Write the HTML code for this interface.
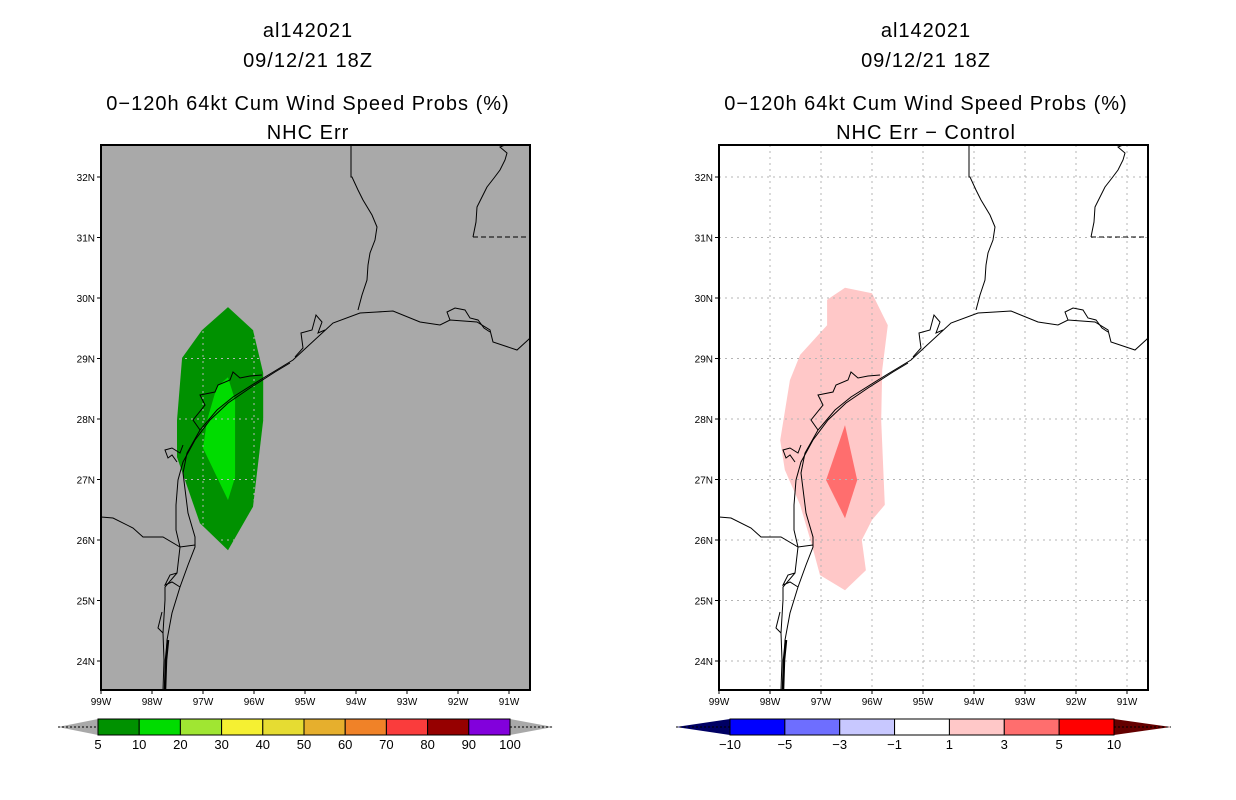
<!DOCTYPE html>
<html><head><meta charset="utf-8">
<style>
html,body{margin:0;padding:0;background:#fff;}
svg{display:block;}
text{font-family:"Liberation Sans",sans-serif;fill:#000;}
.title{font-size:20px;letter-spacing:1px;}
.tick{font-size:10px;}
.cb{font-size:13px;}
</style></head>
<body>
<svg id="chart" width="1236" height="800" viewBox="0 0 1236 800" xmlns="http://www.w3.org/2000/svg"></svg>
<script>
// ---- data ----
const lonTicks = [-99,-98,-97,-96,-95,-94,-93,-92,-91];
const latTicks = [24,25,26,27,28,29,30,31,32];
const leftLevels = ["5","10","20","30","40","50","60","70","80","90","100"];
const leftColors = ["#009100","#00dc00","#a0e632","#f5f032","#e6dc32","#e6af2d","#f08228","#fa3c3c","#960000","#8200dc"];
const rightLevels = ["\u221210","\u22125","\u22123","\u22121","1","3","5","10"];
const rightColors = ["#0000ff","#6e6eff","#c8c8ff","#ffffff","#ffc8c8","#ff6e6e","#ff0000"];
// contour polygons [lon,lat]
const prob5Lon = [-96.51,-96.02,-95.82,-95.82,-96.02,-96.51,-97.06,-97.51,-97.51,-97.41,-97.02];
const prob5Lat = [29.85,29.47,28.76,27.98,26.55,25.83,26.28,27.37,27.98,29.01,29.47];
const prob10Lon = [-96.51,-96.37,-96.37,-96.51,-97.0,-96.92,-96.73];
const prob10Lat = [28.69,28.31,27.04,26.66,27.52,27.98,28.53];
const diff1Lon = [-96.53,-96.0,-95.69,-95.80,-95.82,-95.75,-96.0,-96.20,-96.12,-96.53,-97.02,-97.18,-97.41,-97.71,-97.80,-97.61,-97.41,-96.88,-96.88];
const diff1Lat = [30.17,30.08,29.55,28.81,27.98,26.58,26.33,26.0,25.50,25.17,25.42,25.92,26.58,27.16,27.65,28.64,29.06,29.55,29.97];
const diff3Lon = [-96.53,-96.29,-96.53,-96.90];
const diff3Lat = [27.90,26.99,26.36,26.99];

// ---- geometry ----
const NS="http://www.w3.org/2000/svg";
const svg=document.getElementById('chart');
const BOX={x0:101,y0:145,x1:530,y1:690};
function xs(lon){return 101+(lon+99)*51;}
function ys(lat){return 177+(32-lat)*60.5;}
function mk(tag,attrs,parent){const e=document.createElementNS(NS,tag);for(const k in attrs)e.setAttribute(k,attrs[k]);(parent||svg).appendChild(e);return e;}
function poly(lons,lats){return lons.map((l,i)=>xs(l).toFixed(1)+","+ys(lats[i]).toFixed(1)).join(" ");}

// coastline in left-panel pixel coords (map geometry)
const coast="165,690 167,640 172,613 180,587 188,565 195,547 195,537 188,513 183,473 187,453 200,430 217,410 233,397 260,380 293,360 307,347 333,323 360,313 377,312 393,311 420,322 440,325 450,320 477,322 490,330 493,342 517,350 528,340 530,338";
const lagoon="163,690 164,660 163,633 165,600 165,587 177,573 180,547 176,530 176,505 178,480 183,462 195,440 210,420 228,403 250,388 275,372 290,363";
const bays="200,430 193,420 205,405 200,395 215,392 218,385 230,380 233,372 240,378 250,376 262,375 | 177,462 172,455 168,458 165,450 172,448 180,453 183,445 | 295,357 303,348 301,333 312,330 316,315 322,322 318,333 325,330 | 450,320 447,312 455,308 465,310 470,318 478,320 484,328 490,332 | 163,633 158,628 160,620 162,612 | 180,587 172,582 165,585 170,575 177,573";
const border="101,517 113,518 133,528 143,537 163,537 180,547 195,545";
const sabine="358,310 362,295 367,280 368,265 370,253 375,240 377,227 372,215 363,200 358,190 352,177 351,177 351,145";
const miss="473,237 476,222 477,207 482,197 487,187 494,178 500,170 505,160 507,153 500,147 505,145";

function drawPanel(ox,title3,title4,isDiff,cname){
  const g=mk('g',{transform:`translate(${ox},0)`});
  
  
  const cx=308;
  [["al142021",37],["09/12/21 18Z",67],[title3,110],[title4,139]].forEach((t,i)=>{
    const tx=mk('text',{x:cx,y:t[1],'text-anchor':'middle',class:'title'},g);tx.textContent=t[0];
    
    
  });
  const bg=mk('rect',{x:BOX.x0,y:BOX.y0,width:BOX.x1-BOX.x0,height:BOX.y1-BOX.y0,fill:isDiff?'#ffffff':'#a9a9a9'},g);
  
  
  const clip='clip'+ox;
  const cp=mk('clipPath',{id:clip},g);mk('rect',{x:BOX.x0,y:BOX.y0,width:BOX.x1-BOX.x0,height:BOX.y1-BOX.y0},cp);
  const cg=mk('g',{'clip-path':`url(#${clip})`},g);
  let gridParent=cg;
  if(!isDiff){
    const a=mk('polygon',{points:poly(prob5Lon,prob5Lat),fill:leftColors[0]},cg);
    
    
    const b=mk('polygon',{points:poly(prob10Lon,prob10Lat),fill:leftColors[1]},cg);
    
    
    const gclip=mk('clipPath',{id:'gridclip'},g);
    mk('polygon',{points:poly(prob5Lon,prob5Lat)},gclip);
    gridParent=mk('g',{'clip-path':'url(#gridclip)'},cg);
  } else {
    const a=mk('polygon',{points:poly(diff1Lon,diff1Lat),fill:rightColors[4]},cg);
    
    
    const b=mk('polygon',{points:poly(diff3Lon,diff3Lat),fill:rightColors[5]},cg);
    
    
  }
  const gc=isDiff?'#b4b4b4':'#b6b6b6';
  lonTicks.forEach(l=>{const x=xs(l);if(x>BOX.x0+2&&x<BOX.x1-2){const ln=mk('line',{x1:x,y1:BOX.y0,x2:x,y2:BOX.y1,stroke:gc,'stroke-width':1,'stroke-dasharray':'2,4'},gridParent);
    }});
  latTicks.forEach(l=>{const y=ys(l);const ln=mk('line',{x1:BOX.x0,y1:y,x2:BOX.x1,y2:y,stroke:gc,'stroke-width':1,'stroke-dasharray':'2,4'},gridParent);
    });
  const mg=mk('g',{'clip-path':`url(#${clip})`,fill:'none',stroke:'#000','stroke-width':1},g);
  
  
  mk('polyline',{points:coast},mg);
  mk('polyline',{points:lagoon},mg);
  bays.split('|').forEach(p=>mk('polyline',{points:p.trim()},mg));
  mk('polyline',{points:border},mg);
  mk('polyline',{points:sabine},mg);
  mk('polyline',{points:miss},mg);
  mk('line',{x1:473,y1:237,x2:530,y2:237,'stroke-dasharray':'5,3'},mg);
  mk('polyline',{points:"165,690 166,660 168,640",'stroke-width':2.5},mg);
  const fr=mk('rect',{x:BOX.x0,y:BOX.y0,width:BOX.x1-BOX.x0,height:BOX.y1-BOX.y0,fill:'none',stroke:'#000','stroke-width':2},g);
  
  
  lonTicks.forEach(l=>{const x=xs(l);mk('line',{x1:x,y1:BOX.y1,x2:x,y2:BOX.y1+4,stroke:'#000'},g);
    const t=mk('text',{x:x,y:705,'text-anchor':'middle',class:'tick'},g);t.textContent=Math.abs(l)+"W";
    });
  latTicks.forEach(l=>{const y=ys(l);mk('line',{x1:BOX.x0-4,y1:y,x2:BOX.x0,y2:y,stroke:'#000'},g);
    const t=mk('text',{x:95,y:y+4,'text-anchor':'end',class:'tick'},g);t.textContent=l+"N";
    });
}

function drawColorbar(levels,colors,x0,x1,tipL,tipR,lcol,rcol,cname){
  const g=mk('g',{});
  
  
  const y0=719,y1=735,ym=727;
  mk('polygon',{points:`${x0},${y0} ${tipL},${ym} ${x0},${y1}`,fill:lcol},g);
  mk('polygon',{points:`${x1},${y0} ${tipR},${ym} ${x1},${y1}`,fill:rcol},g);
  mk('line',{x1:tipL,y1:ym,x2:x0,y2:ym,stroke:'#000','stroke-dasharray':'2,2'},g);
  mk('line',{x1:x1,y1:ym,x2:tipR,y2:ym,stroke:'#000','stroke-dasharray':'2,2'},g);
  const w=(x1-x0)/colors.length;
  colors.forEach((c,i)=>{const r=mk('rect',{x:x0+i*w,y:y0,width:w,height:y1-y0,fill:c,stroke:'#000','stroke-width':1},g);
    });
  levels.forEach((lv,i)=>{const t=mk('text',{x:x0+i*w,y:749,'text-anchor':'middle',class:'cb'},g);t.textContent=lv;
    });
}

drawPanel(0,"0\u2212120h 64kt Cum Wind Speed Probs (%)","NHC Err",false,'left-panel');
drawPanel(618,"0\u2212120h 64kt Cum Wind Speed Probs (%)","NHC Err \u2212 Control",true,'right-panel');
drawColorbar(leftLevels,leftColors,98,510,58,553,'#a9a9a9','#a9a9a9','left-colorbar');
drawColorbar(rightLevels,rightColors,730,1114,676,1171,'#000064','#640000','right-colorbar');
</script>
</body></html>
